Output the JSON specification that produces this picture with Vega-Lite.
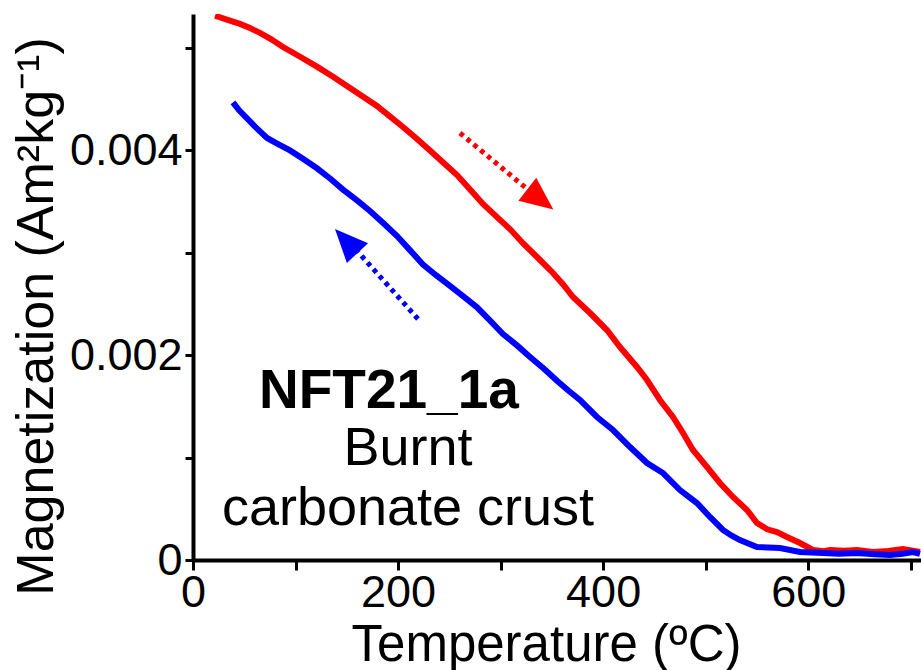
{
  "$schema": "https://vega.github.io/schema/vega-lite/v6.json",
  "width": 728,
  "height": 546,
  "autosize": "none",
  "padding": {"left": 193, "top": 14, "right": 0, "bottom": 110},
  "background": "white",
  "config": {
    "view": {"stroke": null},
    "font": "Liberation Sans",
    "axis": {
      "grid": false,
      "domainColor": "black",
      "domainWidth": 4,
      "tickColor": "black",
      "tickWidth": 3,
      "labelColor": "black",
      "labelFont": "Liberation Sans",
      "labelFontSize": 45,
      "titleColor": "black",
      "titleFont": "Liberation Sans",
      "titleFontSize": 51,
      "titleFontWeight": "normal",
      "labelFlush": false,
      "labelOverlap": false
    }
  },
  "datasets": {
    "heating": [
      {"T": 21.5, "M": 0.005313}, {"T": 33, "M": 0.005275}, {"T": 45.8, "M": 0.005233}, {"T": 55, "M": 0.005195},
      {"T": 65.3, "M": 0.005146}, {"T": 76, "M": 0.005085}, {"T": 87.8, "M": 0.005008}, {"T": 104, "M": 0.004915},
      {"T": 120.9, "M": 0.004816}, {"T": 137, "M": 0.004715}, {"T": 153.1, "M": 0.004608}, {"T": 166, "M": 0.004522},
      {"T": 179.4, "M": 0.004432}, {"T": 192, "M": 0.00433}, {"T": 204.8, "M": 0.004227}, {"T": 218, "M": 0.004115},
      {"T": 231.1, "M": 0.003998}, {"T": 244, "M": 0.00388}, {"T": 257.5, "M": 0.003758}, {"T": 270, "M": 0.00362},
      {"T": 282.8, "M": 0.003475}, {"T": 296, "M": 0.003352}, {"T": 309.1, "M": 0.003231}, {"T": 322, "M": 0.00309},
      {"T": 336.5, "M": 0.002948}, {"T": 351.1, "M": 0.002802}, {"T": 361, "M": 0.00269}, {"T": 370.6, "M": 0.002567},
      {"T": 387.2, "M": 0.002411}, {"T": 403.7, "M": 0.002245}, {"T": 416.4, "M": 0.002079}, {"T": 433, "M": 0.001884},
      {"T": 442.8, "M": 0.001757}, {"T": 455.4, "M": 0.001562}, {"T": 468.1, "M": 0.001396}, {"T": 477.9, "M": 0.00124},
      {"T": 487.6, "M": 0.001074}, {"T": 501.3, "M": 0.000908}, {"T": 513.9, "M": 0.000752}, {"T": 526.6, "M": 0.000615},
      {"T": 540.3, "M": 0.000488}, {"T": 550, "M": 0.000361}, {"T": 560, "M": 0.0003}, {"T": 569.5, "M": 0.000273},
      {"T": 579.3, "M": 0.000225}, {"T": 592, "M": 0.000166}, {"T": 604.6, "M": 0.000098}, {"T": 615, "M": 0.000085},
      {"T": 621.2, "M": 0.000098}, {"T": 635, "M": 0.00009}, {"T": 647.6, "M": 0.000098}, {"T": 663.2, "M": 0.000078},
      {"T": 678, "M": 0.000088}, {"T": 692.4, "M": 0.000107}, {"T": 709, "M": 0.000078}
    ],
    "cooling": [
      {"T": 39, "M": 0.004468}, {"T": 45, "M": 0.00439}, {"T": 52.7, "M": 0.004312}, {"T": 62, "M": 0.004215},
      {"T": 72.2, "M": 0.00412}, {"T": 83, "M": 0.00406}, {"T": 94.6, "M": 0.003998}, {"T": 108, "M": 0.003912},
      {"T": 120.9, "M": 0.003824}, {"T": 134, "M": 0.003722}, {"T": 146.3, "M": 0.003616}, {"T": 160, "M": 0.00351},
      {"T": 172.6, "M": 0.003407}, {"T": 186, "M": 0.003285}, {"T": 199, "M": 0.003163}, {"T": 212, "M": 0.00302},
      {"T": 224.3, "M": 0.002885}, {"T": 237, "M": 0.00278}, {"T": 250.6, "M": 0.002675}, {"T": 264, "M": 0.00257},
      {"T": 277, "M": 0.002467}, {"T": 290, "M": 0.002335}, {"T": 302.3, "M": 0.002206}, {"T": 316, "M": 0.002095},
      {"T": 328.7, "M": 0.001982}, {"T": 342, "M": 0.00187}, {"T": 355, "M": 0.00175}, {"T": 366, "M": 0.001655},
      {"T": 377.4, "M": 0.001562}, {"T": 394, "M": 0.001396}, {"T": 409.6, "M": 0.001269}, {"T": 426.2, "M": 0.001103},
      {"T": 442.8, "M": 0.000947}, {"T": 458.4, "M": 0.000849}, {"T": 474.9, "M": 0.000683}, {"T": 491.5, "M": 0.000556},
      {"T": 504.2, "M": 0.00042}, {"T": 516.9, "M": 0.000293}, {"T": 525, "M": 0.00024}, {"T": 533.4, "M": 0.000195},
      {"T": 550, "M": 0.000127}, {"T": 572.5, "M": 0.000117}, {"T": 592, "M": 0.000078}, {"T": 614.4, "M": 0.000068},
      {"T": 630, "M": 0.00006}, {"T": 647.6, "M": 0.000068}, {"T": 665, "M": 0.000055}, {"T": 679.7, "M": 0.000049},
      {"T": 692, "M": 0.00006}, {"T": 702.2, "M": 0.000078}, {"T": 709, "M": 0.00006}
    ],
    "arrows": [
      {"series": "heating", "x": 260.4, "y": 0.004168, "x2": 324.8, "y2": 0.003631},
      {"series": "cooling", "x": 219.4, "y": 0.002353, "x2": 160.9, "y2": 0.003007}
    ],
    "heads": [
      {"series": "heating", "x": 334.5, "y": 0.003553},
      {"series": "cooling", "x": 153.1, "y": 0.003075}
    ],
    "labels": [
      {"key": "id", "text": "NFT21_1a", "x": 191.1, "y": 0.001484},
      {"key": "l1", "text": "Burnt", "x": 209.7, "y": 0.000927},
      {"key": "l2", "text": "carbonate crust", "x": 209.7, "y": 0.000342}
    ]
  },
  "encoding": {
    "x": {
      "type": "quantitative",
      "scale": {"domain": [0, 710], "nice": false, "zero": false},
      "axis": {
        "title": "Temperature (ºC)",
        "values": [0, 100, 200, 300, 400, 500, 600, 700],
        "labelExpr": "datum.value % 200 == 0 ? datum.label : ''",
        "tickSize": 10,
        "labelPadding": 0,
        "titleX": 353,
        "titleY": 100,
        "titleBaseline": "alphabetic"
      }
    },
    "y": {
      "type": "quantitative",
      "scale": {"domain": [0, 0.00533], "nice": false, "zero": false},
      "axis": {
        "title": "Magnetization (Am²kg⁻¹)",
        "values": [0, 0.001, 0.002, 0.003, 0.004, 0.005],
        "labelExpr": "round(datum.value * 1000) % 2 == 0 ? (datum.value == 0 ? '0' : format(datum.value, '.3f')) : ''",
        "tickSize": 8,
        "labelPadding": 3,
        "titleFontSize": 52,
        "titleX": -141,
        "titleY": 302,
        "titleAngle": -90,
        "titleBaseline": "alphabetic"
      }
    }
  },
  "layer": [
    {
      "data": {"name": "heating"},
      "mark": {"type": "line", "color": "#ff0000", "strokeWidth": 6, "clip": true, "interpolate": "linear"},
      "encoding": {"x": {"field": "T"}, "y": {"field": "M"}}
    },
    {
      "data": {"name": "cooling"},
      "mark": {"type": "line", "color": "#0000ff", "strokeWidth": 6, "clip": true, "interpolate": "linear"},
      "encoding": {"x": {"field": "T"}, "y": {"field": "M"}}
    },
    {
      "data": {"name": "arrows"},
      "transform": [{"filter": "datum.series == 'heating'"}],
      "mark": {"type": "rule", "color": "#ff0000", "strokeWidth": 5, "strokeDash": [4.5, 4.4], "strokeCap": "butt"},
      "encoding": {"x": {"field": "x"}, "y": {"field": "y"}, "x2": {"field": "x2"}, "y2": {"field": "y2"}}
    },
    {
      "data": {"name": "arrows"},
      "transform": [{"filter": "datum.series == 'cooling'"}],
      "mark": {"type": "rule", "color": "#0000ff", "strokeWidth": 5, "strokeDash": [4.5, 4.4], "strokeCap": "butt"},
      "encoding": {"x": {"field": "x"}, "y": {"field": "y"}, "x2": {"field": "x2"}, "y2": {"field": "y2"}}
    },
    {
      "data": {"name": "heads"},
      "transform": [{"filter": "datum.series == 'heating'"}],
      "mark": {"type": "point", "shape": "M0,-1.1L0.725,0.55L-0.725,0.55Z", "size": 1600, "angle": 128, "filled": true, "opacity": 1, "color": "#ff0000"},
      "encoding": {"x": {"field": "x"}, "y": {"field": "y"}}
    },
    {
      "data": {"name": "heads"},
      "transform": [{"filter": "datum.series == 'cooling'"}],
      "mark": {"type": "point", "shape": "M0,-1.1L0.725,0.55L-0.725,0.55Z", "size": 1600, "angle": 317, "filled": true, "opacity": 1, "color": "#0000ff"},
      "encoding": {"x": {"field": "x"}, "y": {"field": "y"}}
    },
    {
      "data": {"name": "labels"},
      "transform": [{"filter": "datum.key == 'id'"}],
      "mark": {"type": "text", "font": "Liberation Sans", "fontSize": 55, "fontWeight": "bold", "color": "black", "align": "center", "baseline": "alphabetic"},
      "encoding": {"x": {"field": "x"}, "y": {"field": "y"}, "text": {"field": "text"}}
    },
    {
      "data": {"name": "labels"},
      "transform": [{"filter": "datum.key != 'id'"}],
      "mark": {"type": "text", "font": "Liberation Sans", "fontSize": 54, "color": "black", "align": "center", "baseline": "alphabetic"},
      "encoding": {"x": {"field": "x"}, "y": {"field": "y"}, "text": {"field": "text"}}
    }
  ]
}
